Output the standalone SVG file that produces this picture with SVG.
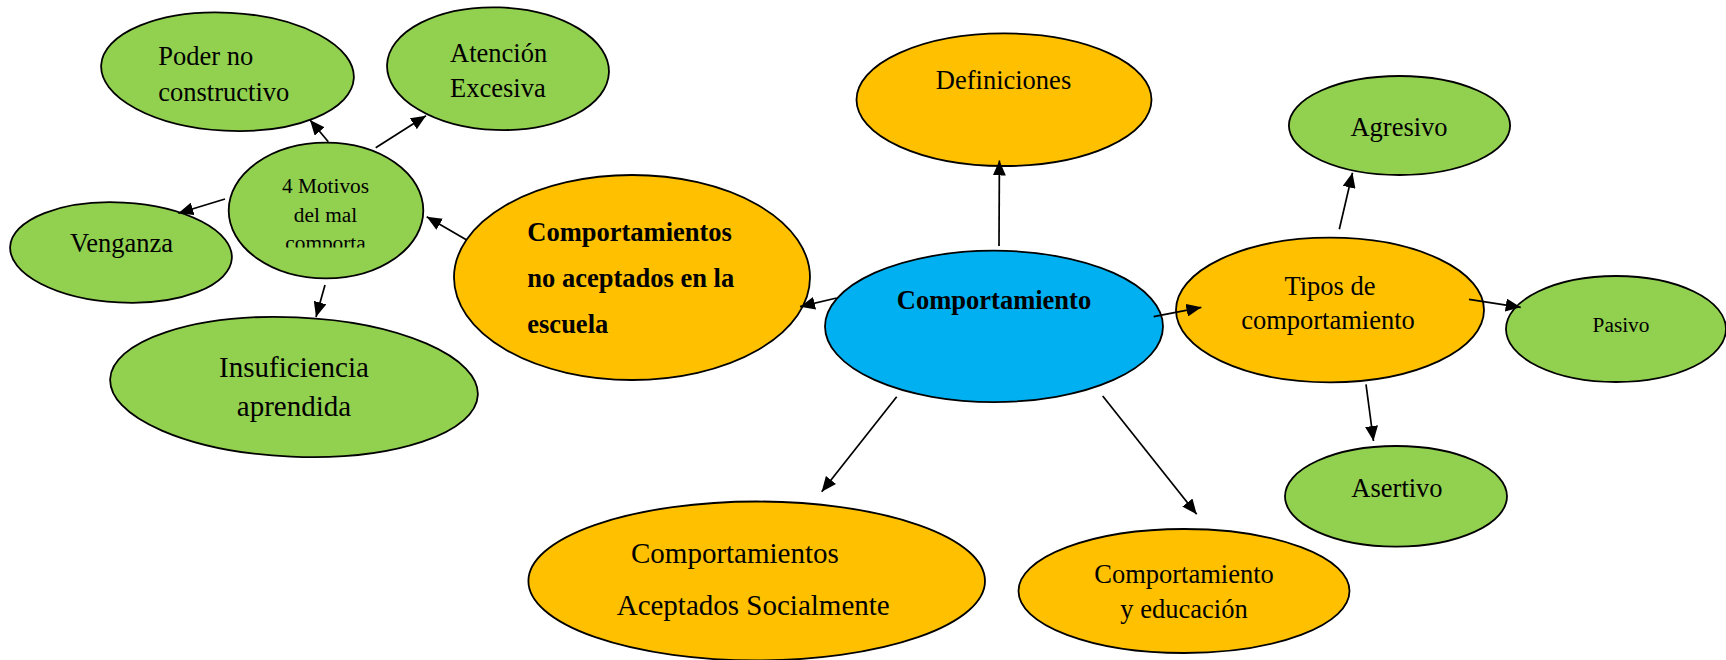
<svg xmlns="http://www.w3.org/2000/svg" width="1726" height="660" viewBox="0 0 1726 660">
<style>
.g{fill:#92D050;stroke:#000;stroke-width:1.8}
.o{fill:#FFC000;stroke:#000;stroke-width:1.8}
.b{fill:#00B0F0;stroke:#000;stroke-width:1.8}
text{font-family:"Liberation Serif","Times New Roman",serif;fill:#000;font-size:26.5px}
.c{text-anchor:middle}
.bold{font-weight:bold}
.s{font-size:21.3px}
.l{font-size:29px}
.con line{stroke:#000;stroke-width:1.7;marker-end:url(#ah)}
</style>
<defs>
<marker id="ah" viewBox="0 0 15 13" refX="15" refY="6.5" markerWidth="15" markerHeight="13" markerUnits="userSpaceOnUse" orient="auto">
<path d="M0,0 L15,6.5 L0,13 z" fill="#000"/>
</marker>
<clipPath id="mclip"><rect x="228" y="150" width="196" height="97.5"/></clipPath>
</defs>
<rect width="1726" height="660" fill="#fff"/>
<g id="poder">
<ellipse class="g" cx="227.5" cy="71.7" rx="126.5" ry="59" transform="rotate(3 227.5 71.7)"/>
<text x="158.3" y="65">Poder no</text>
<text x="158.3" y="100.7">constructivo</text>
</g>
<g id="atencion">
<ellipse class="g" cx="498" cy="68.7" rx="111" ry="61.3" transform="rotate(2 498 68.7)"/>
<text x="450" y="61.7">Atención</text>
<text x="450" y="96.7">Excesiva</text>
</g>
<g id="motivos">
<ellipse class="g" cx="326" cy="210.5" rx="97.3" ry="67.8"/>
<text class="c s" x="325.5" y="193.3">4 Motivos</text>
<text class="c s" x="325.5" y="221.7">del mal</text>
<text class="c s" x="325.5" y="250" clip-path="url(#mclip)">comporta</text>
</g>
<g id="venganza">
<ellipse class="g" cx="121" cy="252.5" rx="111" ry="50" transform="rotate(3 121 252.5)"/>
<text class="c" x="121.5" y="252.3">Venganza</text>
</g>
<g id="insuficiencia">
<ellipse class="g" cx="294" cy="387" rx="184" ry="69.7" transform="rotate(2.5 294 387)"/>
<text class="c l" x="294" y="377">Insuficiencia</text>
<text class="c l" x="294" y="416">aprendida</text>
</g>
<g id="noaceptados">
<ellipse class="o" cx="632" cy="277.5" rx="178" ry="102.5"/>
<text class="bold" x="527.3" y="241">Comportamientos</text>
<text class="bold" x="527.3" y="286.7">no aceptados en la</text>
<text class="bold" x="527.3" y="332.7">escuela</text>
</g>
<g id="comportamiento">
<ellipse class="b" cx="994" cy="326.4" rx="169" ry="75.7"/>
<text class="c bold" x="994" y="309">Comportamiento</text>
</g>
<g id="definiciones">
<ellipse class="o" cx="1004" cy="99.7" rx="147.5" ry="66.3"/>
<text class="c" x="1003.5" y="89">Definiciones</text>
</g>
<g id="tipos">
<ellipse class="o" cx="1330" cy="310" rx="154" ry="72.3"/>
<text class="c" x="1330" y="295">Tipos de</text>
<text class="c" x="1328" y="329.3">comportamiento</text>
</g>
<g id="agresivo">
<ellipse class="g" cx="1399.5" cy="125.5" rx="110.6" ry="49.5"/>
<text class="c" x="1399" y="136">Agresivo</text>
</g>
<g id="pasivo">
<ellipse class="g" cx="1616" cy="329" rx="110" ry="53"/>
<text class="c s" x="1621" y="331.7">Pasivo</text>
</g>
<g id="asertivo">
<ellipse class="g" cx="1396" cy="496.3" rx="111" ry="50.3"/>
<text class="c" x="1397" y="496.7">Asertivo</text>
</g>
<g id="aceptados">
<ellipse class="o" cx="756.7" cy="581" rx="228.3" ry="79.5"/>
<text class="l" x="631" y="563.3">Comportamientos</text>
<text class="l" x="616.7" y="615">Aceptados Socialmente</text>
</g>
<g id="educacion">
<ellipse class="o" cx="1184" cy="591" rx="165.5" ry="62"/>
<text class="c" x="1184" y="582.7">Comportamiento</text>
<text class="c" x="1184" y="618.3">y educación</text>
</g>
<g id="connectors" class="con">
<line x1="328.3" y1="141.7" x2="310" y2="120"/>
<line x1="375.7" y1="147.7" x2="426" y2="115.7"/>
<line x1="225" y1="199" x2="178.3" y2="213.3"/>
<line x1="325" y1="285" x2="316" y2="317"/>
<line x1="466.7" y1="240" x2="426.7" y2="216.7"/>
<line x1="836.7" y1="298" x2="800" y2="306.7"/>
<line x1="999" y1="246" x2="999.4" y2="160.5"/>
<line x1="1153.7" y1="316.7" x2="1201.4" y2="307.3"/>
<line x1="896.7" y1="396.7" x2="821.7" y2="491.7"/>
<line x1="1102.7" y1="396" x2="1196.7" y2="514.3"/>
<line x1="1339.3" y1="229.3" x2="1352.5" y2="172.7"/>
<line x1="1469" y1="299.3" x2="1520.7" y2="307.3"/>
<line x1="1366" y1="384.3" x2="1373.5" y2="441"/>
</g>
</svg>
